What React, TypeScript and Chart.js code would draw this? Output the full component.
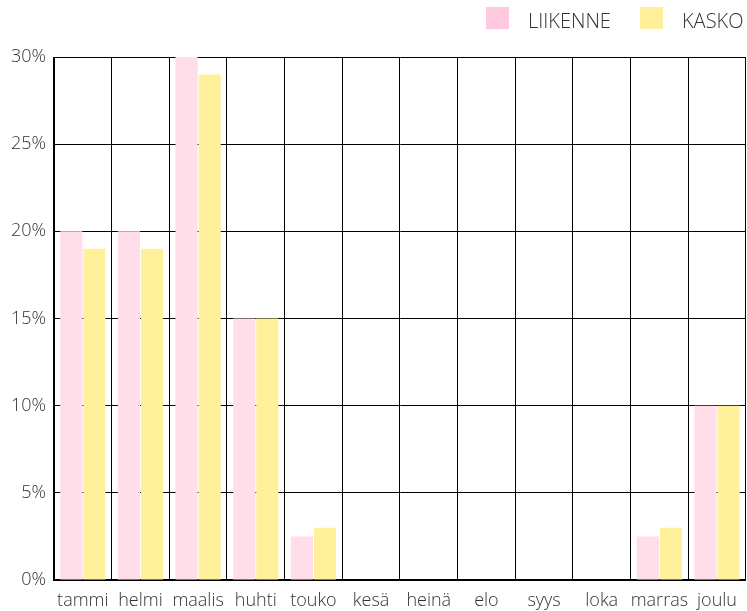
import React, { useEffect, useRef } from "react";
import { Chart, registerables } from "chart.js";

Chart.register(...registerables);

const months = ["tammi", "helmi", "maalis", "huhti", "touko", "kesä", "heinä", "elo", "syys", "loka", "marras", "joulu"];
const liikenne = [20, 20, 30, 15, 2.5, 0, 0, 0, 0, 0, 2.5, 10];
const kasko = [19, 19, 29, 15, 3, 0, 0, 0, 0, 0, 3, 10];
const seriesNames = ["LIIKENNE", "KASKO"];
const barColors = ["#FFDDE9", "#FFF09C"];
const legendColors = ["#FFCADF", "#FFEF9A"];

const FONT = "'Open Sans', sans-serif";

const legendPlugin = {
  id: "customLegend",
  afterDraw(chart: any) {
    const ctx = chart.ctx;
    ctx.save();
    ctx.font = `300 20px ${FONT}`;
    ctx.textBaseline = "middle";
    ctx.textAlign = "left";
    const boxes = [486, 640];
    seriesNames.forEach((name, i) => {
      const x = boxes[i];
      ctx.fillStyle = legendColors[i];
      ctx.fillRect(x, 7, 23, 22);
      ctx.fillStyle = "#333";
      ctx.fillText(name, x + 42, 22);
    });
    ctx.restore();
  },
};

export default function App() {
  const ref = useRef<HTMLCanvasElement>(null);
  useEffect(() => {
    if (!ref.current) return;
    const chart = new Chart(ref.current, {
      type: "bar",
      data: {
        labels: months,
        datasets: [
          { label: seriesNames[0], data: liikenne, backgroundColor: barColors[0], categoryPercentage: 0.8, barPercentage: 0.96 },
          { label: seriesNames[1], data: kasko, backgroundColor: barColors[1], categoryPercentage: 0.8, barPercentage: 0.96 },
        ],
      },
      options: {
        responsive: false,
        animation: false,
        layout: { padding: { top: 57, left: 10, right: 0, bottom: 0 } },
        plugins: { legend: { display: false }, tooltip: { enabled: false } },
        scales: {
          x: {
            grid: { color: "#000", lineWidth: 1, drawTicks: false, offset: true },
            border: { color: "#000", width: 2 },
            ticks: { color: "#333", font: { family: FONT, size: 18, weight: "300" }, padding: 10, maxRotation: 0, autoSkip: false },
            afterFit: (s: any) => { s.height = 31; },
          },
          y: {
            min: 0,
            max: 30,
            grid: { color: "#000", lineWidth: 1, drawTicks: false },
            border: { color: "#000", width: 1 },
            ticks: { stepSize: 5, color: "#333", font: { family: FONT, size: 18, weight: "300" }, padding: 8, callback: (v: any) => v + "%" },
            afterFit: (s: any) => { s.width = 44; },
          },
        },
      },
      plugins: [legendPlugin],
    });
    return () => chart.destroy();
  }, []);
  return (
    <div style={{ position: "absolute", left: 0, top: 0, width: 747, height: 611, background: "#fff" }}>
      <canvas ref={ref} width={747} height={611} style={{ display: "block" }} />
    </div>
  );
}
